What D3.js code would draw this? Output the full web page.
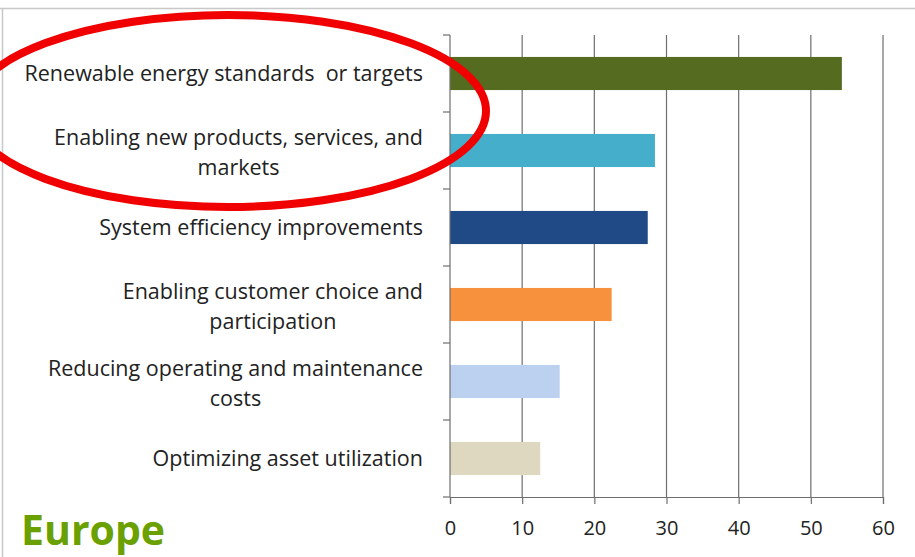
<!DOCTYPE html>
<html>
<head>
<meta charset="utf-8">
<script src="https://cdn.jsdelivr.net/npm/d3@7"></script>
<style>
  body { margin: 0; background: #fff; }
  svg { display: block; }
  text { white-space: pre; }
</style>
</head>
<body>
<div id="chart"></div>
<script>
// data
const categories = [
  ["Renewable energy standards  or targets"],
  ["Enabling new products, services, and", "markets"],
  ["System efficiency improvements"],
  ["Enabling customer choice and", "participation"],
  ["Reducing operating and maintenance", "costs"],
  ["Optimizing asset utilization"]
];
const values = [54.3, 28.4, 27.4, 22.4, 15.2, 12.5];
const colors = ["#556b1f", "#45aecb", "#1f4a85", "#f7913e", "#bcd1ef", "#ddd8bf"];
const xTicks = [0, 10, 20, 30, 40, 50, 60];

const width = 915, height = 557;
const font = "'Open Sans', Lato, sans-serif";
const svg = d3.select("#chart").append("svg")
  .attr("width", width)
  .attr("height", height);

// outer frame of the chart image
svg.append("line").attr("x1", 0).attr("x2", width).attr("y1", 8.5).attr("y2", 8.5)
  .attr("stroke", "#c8c8c8").attr("stroke-width", 1.5);
svg.append("line").attr("x1", 2.5).attr("x2", 2.5).attr("y1", 8).attr("y2", height)
  .attr("stroke", "#c8c8c8").attr("stroke-width", 1.5);

const x = d3.scaleLinear().domain([0, 60]).range([450, 883]);
const y = d3.scaleBand().domain(d3.range(categories.length)).range([35, 497]).paddingInner(0.57).paddingOuter(0.285);
const yEdges = d3.scaleLinear().domain([0, categories.length]).range([35, 497]);

// vertical grid lines
svg.append("g").selectAll("line").data(xTicks.slice(1)).join("line")
  .attr("x1", d => x(d)).attr("x2", d => x(d))
  .attr("y1", 35).attr("y2", 497)
  .attr("stroke", "#6e6e6e").attr("stroke-width", 1.2);

// bars
svg.append("g").selectAll("rect").data(values).join("rect")
  .attr("x", x(0))
  .attr("y", (d, i) => y(i))
  .attr("width", d => x(d) - x(0))
  .attr("height", y.bandwidth())
  .attr("fill", (d, i) => colors[i]);

// left axis with category boundary ticks
svg.append("line").attr("x1", x(0)).attr("x2", x(0)).attr("y1", 35).attr("y2", 497)
  .attr("stroke", "#6e6e6e").attr("stroke-width", 1.2);
svg.append("g").selectAll("line").data(d3.range(categories.length + 1)).join("line")
  .attr("x1", x(0) - 7).attr("x2", x(0))
  .attr("y1", d => yEdges(d)).attr("y2", d => yEdges(d))
  .attr("stroke", "#6e6e6e").attr("stroke-width", 1.2);

// bottom axis
const xAxis = svg.append("g")
  .attr("transform", `translate(0,497)`)
  .call(d3.axisBottom(x).tickValues(xTicks).tickSize(7).tickPadding(17));
xAxis.select(".domain").attr("stroke", "#6e6e6e").attr("stroke-width", 1.2);
xAxis.selectAll(".tick line").attr("stroke", "#6e6e6e").attr("stroke-width", 1.2);
xAxis.selectAll(".tick text")
  .attr("font-family", font)
  .attr("font-size", 20).attr("fill", "#222");

// category labels, block right aligned, lines centred inside it
const labelRight = 423;
const lineH = 30;
const labels = svg.append("g")
  .attr("font-family", font)
  .attr("font-size", 21.5)
  .attr("fill", "#222");
categories.forEach((lines, i) => {
  const cy = y(i) + y.bandwidth() / 2;
  const t = labels.append("text").attr("text-anchor", "middle");
  lines.forEach((ln, j) => {
    t.append("tspan").text(ln)
      .attr("y", cy + 7 + (j - (lines.length - 1) / 2) * lineH + (lines.length > 1 ? 2 : 0));
  });
  let w = 0;
  t.selectAll("tspan").each(function() { w = Math.max(w, this.getComputedTextLength()); });
  t.selectAll("tspan").attr("x", labelRight - w / 2);
});

// highlight ellipse
svg.append("ellipse")
  .attr("cx", 228).attr("cy", 111).attr("rx", 258).attr("ry", 96)
  .attr("fill", "none").attr("stroke", "#f00000").attr("stroke-width", 8);

// region label
svg.append("text")
  .attr("x", 21).attr("y", 545)
  .attr("font-family", font)
  .attr("font-weight", "bold")
  .attr("font-size", 41)
  .attr("fill", "#6aa000")
  .text("Europe");
</script>
</body>
</html>
